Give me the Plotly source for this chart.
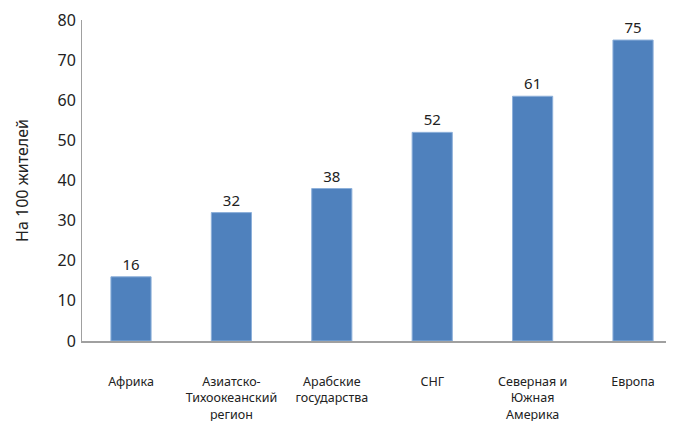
import plotly.graph_objects as go

categories = ["Африка", "Азиатско-<br>Тихоокеанский<br>регион", "Арабские<br>государства",
              "СНГ", "Северная и<br>Южная<br>Америка", "Европа"]
values = [16, 32, 38, 52, 61, 75]
y_ticks = [0, 10, 20, 30, 40, 50, 60, 70, 80]

fig = go.Figure(go.Bar(
    x=categories, y=values,
    text=[str(v) for v in values], textposition="outside",
    textfont=dict(size=15, color="#222"),
    marker=dict(color="#4F81BD", line=dict(color="#8DB0DA", width=1)),
    cliponaxis=False,
))

fig.update_layout(
    width=674, height=421,
    margin=dict(l=74, r=8, t=12, b=88),
    paper_bgcolor="white", plot_bgcolor="white",
    font=dict(family="Noto Sans", color="#222"),
    bargap=0.6, showlegend=False,
    xaxis=dict(range=[-0.488, 5.408], showline=True, linecolor="#A0A0A0", linewidth=2,
               ticks="", tickfont=dict(size=12.5), ticklabelstandoff=28, showgrid=False,
               automargin=False),
    yaxis=dict(range=[0, 80], tickvals=y_ticks, showline=True, linecolor="#A0A0A0", linewidth=1,
               ticks="", tickfont=dict(size=16), showgrid=False, zeroline=False,
               automargin=False, ticklabelstandoff=2,
               title=dict(text="На 100 жителей", font=dict(size=16), standoff=24)),
)

fig.write_html("out.html")
